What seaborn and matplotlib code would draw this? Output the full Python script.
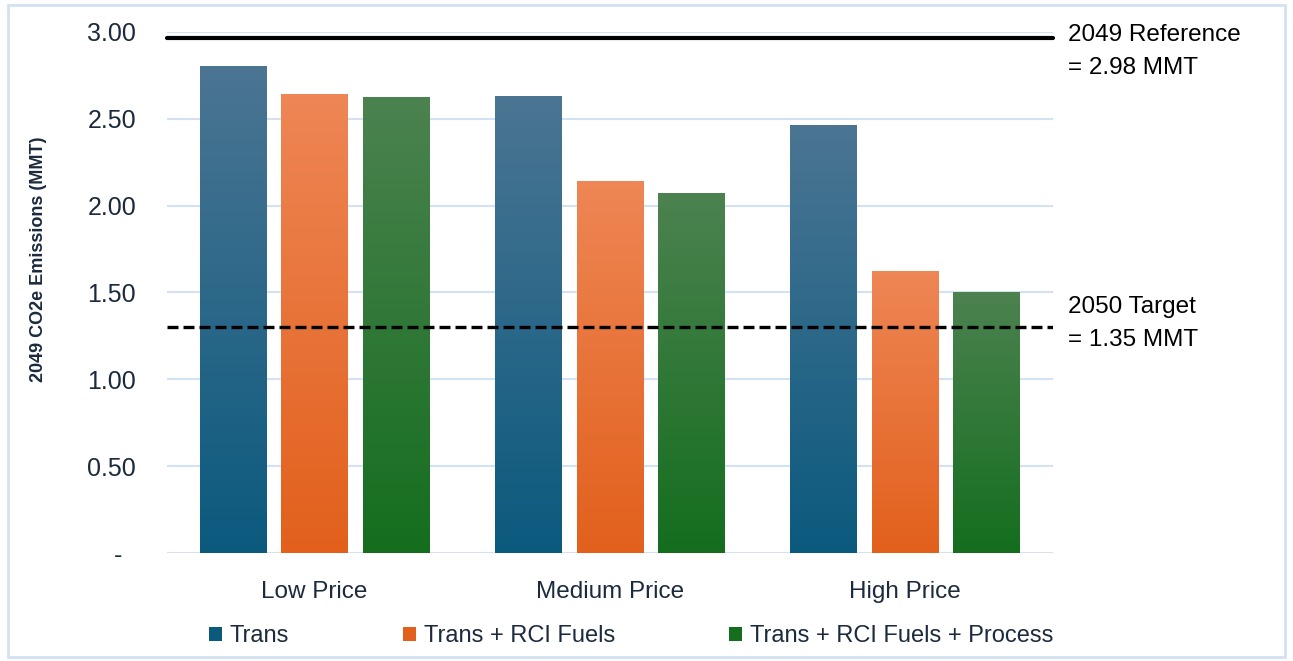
import matplotlib
matplotlib.use('Agg')
import matplotlib.pyplot as plt
import seaborn as sns
import numpy as np
import pandas as pd
from matplotlib.colors import LinearSegmentedColormap
from matplotlib.patches import Patch, Rectangle

# data
scenarios = ['Low Price', 'Medium Price', 'High Price']
series = ['Trans', 'Trans + RCI Fuels', 'Trans + RCI Fuels + Process']
trans = [2.80, 2.625, 2.46]
trans_rci = [2.64, 2.135, 1.62]
trans_rci_process = [2.62, 2.07, 1.50]
ref_value = 2.965
target_value = 1.30
ref_label = '2049 Reference\n= 2.98 MMT'
target_label = '2050 Target\n= 1.35 MMT'
yticks = [0, 0.5, 1.0, 1.5, 2.0, 2.5, 3.0]
ytick_labels = ['-  ', '0.50', '1.00', '1.50', '2.00', '2.50', '3.00']

# top / bottom colours of the gradient fills
grad_colors = {
    'Trans': ('#4B7593', '#0B5A7E'),
    'Trans + RCI Fuels': ('#EE8655', '#E2601C'),
    'Trans + RCI Fuels + Process': ('#4C8250', '#146E1E'),
}

df = pd.DataFrame({
    'scenario': np.repeat(scenarios, 3),
    'series': series * 3,
    'value': [v for trio in zip(trans, trans_rci, trans_rci_process) for v in trio],
})

sns.set_style('white')
plt.rcParams['font.family'] = ['Liberation Sans', 'DejaVu Sans']
navy = '#1B2A3C'

fig = plt.figure(figsize=(12.93, 6.61), dpi=100)
fig.patches.append(Rectangle((0.006, 0.006), 0.988, 0.986, transform=fig.transFigure,
                             fill=False, edgecolor='#D3E2F2', linewidth=2))
ax = fig.add_axes([0.129, 0.163, 0.685, 0.789])

sns.barplot(data=df, x='scenario', y='value', hue='series', order=scenarios,
            hue_order=series, width=0.83, gap=0.19, ax=ax, legend=False,
            palette=[grad_colors[s][1] for s in series])

# gradient fill for each bar
for i, s in enumerate(series):
    cmap = LinearSegmentedColormap.from_list(s, [grad_colors[s][1], grad_colors[s][0]])
    for bar in ax.containers[i]:
        x0, y0 = bar.get_x(), bar.get_y()
        w, h = bar.get_width(), bar.get_height()
        grad = np.linspace(0, 1, 256).reshape(-1, 1)
        ax.imshow(grad, extent=[x0, x0 + w, y0, y0 + h], origin='lower',
                  aspect='auto', cmap=cmap, zorder=3)
        bar.set_visible(False)

ax.set_xlim(-0.5, 2.5)
ax.set_ylim(0, 3.0)
ax.set_yticks(yticks)
ax.set_yticklabels(ytick_labels)
ax.grid(axis='y', color='#D3E2F2', linewidth=1.5, zorder=0)
ax.set_axisbelow(True)
for sp in ax.spines.values():
    sp.set_visible(False)
ax.tick_params(axis='y', length=0, pad=22, labelsize=18, labelcolor=navy)
ax.tick_params(axis='x', length=0, pad=20, labelsize=17.5, labelcolor=navy)
ax.set_xlabel('')
ax.set_ylabel('')

ax.axhline(ref_value, color='black', linewidth=3, zorder=4, clip_on=False)
ax.axhline(target_value, color='black', linewidth=2.4, linestyle=(0, (3.3, 1.5)), zorder=4)
ax.text(1.017, 2.885, ref_label, transform=ax.get_yaxis_transform(),
        fontsize=17.5, va='center', ha='left', color='black', linespacing=1.65)
ax.text(1.017, 1.32, target_label, transform=ax.get_yaxis_transform(),
        fontsize=17.5, va='center', ha='left', color='black', linespacing=1.65)

fig.text(0.030, 1 - 259 / 661, '2049 CO2e Emissions (MMT)', rotation=90,
         fontsize=13, fontweight='bold', color=navy, ha='center', va='center')

handles = [Patch(facecolor=grad_colors[s][1], edgecolor='none') for s in series]
leg = fig.legend(handles, series, loc='center left', bbox_to_anchor=(0.145, 1 - 636 / 661),
                 ncol=3, frameon=False, handlelength=0.55, handleheight=0.55,
                 handletextpad=0.35, columnspacing=4.8, prop={'size': 17})
for t in leg.get_texts():
    t.set_color(navy)

fig.savefig('out.png', dpi=100)
